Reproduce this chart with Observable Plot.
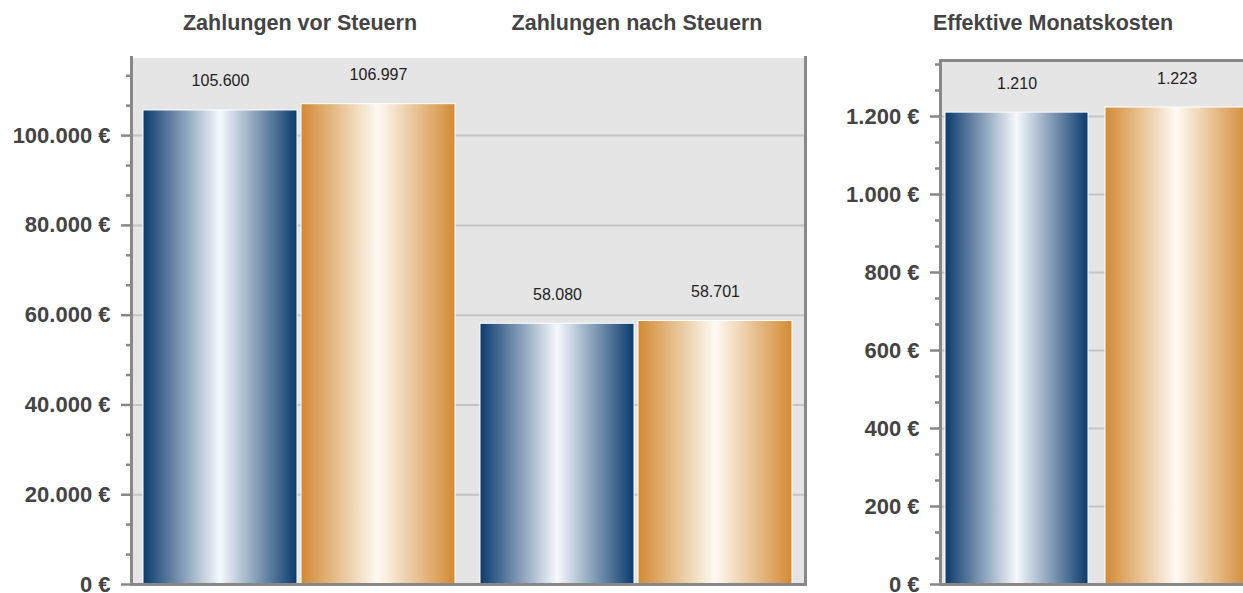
<!DOCTYPE html>
<html><head><meta charset="utf-8">
<script src="https://cdn.jsdelivr.net/npm/d3@7"></script>
<script src="https://cdn.jsdelivr.net/npm/@observablehq/plot@0.6"></script>
<style>
html,body{margin:0;padding:0;background:#fff;overflow:hidden}
#chart{position:relative;width:1243px;height:593px;overflow:hidden;font-family:"Liberation Sans",Arial,sans-serif}
#chart svg{position:absolute;top:0}
</style></head><body><div id="chart"></div>
<script>
// ---- data ----
const groups = ["Zahlungen vor Steuern", "Zahlungen nach Steuern"];
const series = ["Variante A", "Variante B"];
const vorSteuern = [105600, 106997];
const nachSteuern = [58080, 58701];
const monatsTitle = "Effektive Monatskosten";
const monatskosten = [1210, 1223];
const leftTicks = [0, 20000, 40000, 60000, 80000, 100000];
const rightTicks = [0, 200, 400, 600, 800, 1000, 1200];
const leftMax = 117400;
const rightMax = 1343.6;

const de = d3.formatLocale({decimal: ",", thousands: ".", grouping: [3], currency: ["", " €"]});
const fmtNum = de.format(",.0f");
const fmtEuro = d => fmtNum(d) + " €";

const leftData = groups.flatMap((g, i) => series.map((s, j) => ({group: g, series: s, value: [vorSteuern, nachSteuern][i][j]})));
const rightData = series.map((s, j) => ({series: s, value: monatskosten[j]}));

const minorLeft = d3.range(1, 18).filter(i => i % 3).map(i => i * 20000 / 3).filter(v => v < leftMax);
const minorRight = d3.range(1, 21).filter(i => i % 3).map(i => i * 200 / 3).filter(v => v < rightMax);

const gradSpecs = [["blue", "#0a3a6d", "#f6f9fc"], ["orange", "#d28a33", "#fefaf3"]];
function gradientDefs(suffix) {
  return () => {
    const ns = "http://www.w3.org/2000/svg";
    const defs = document.createElementNS(ns, "defs");
    for (const [name, edge, mid] of gradSpecs) {
      const lg = document.createElementNS(ns, "linearGradient");
      lg.setAttribute("id", name + suffix);
      lg.setAttribute("x1", "0"); lg.setAttribute("x2", "1");
      lg.setAttribute("y1", "0"); lg.setAttribute("y2", "0");
      for (const [off, c] of [[0, edge], [0.5, mid], [1, edge]]) {
        const st = document.createElementNS(ns, "stop");
        st.setAttribute("offset", off);
        st.setAttribute("stop-color", c);
        lg.appendChild(st);
      }
      defs.appendChild(lg);
    }
    return defs;
  };
}

const style = {fontFamily: "'Liberation Sans', Arial, sans-serif", background: "transparent", overflow: "visible"};
const axisColor = "#888";
const gridColor = "#c4c4c4";
const labelColor = "#444";

const left = Plot.plot({
  width: 810, height: 593,
  marginLeft: 130, marginRight: 5, marginTop: 57, marginBottom: 9,
  style,
  fx: {domain: groups, padding: 0, label: null},
  x: {domain: series, paddingInner: 0.025, paddingOuter: 0.075, axis: null},
  y: {domain: [0, leftMax], label: null},
  color: {domain: series, range: ["url(#blueL)", "url(#orangeL)"]},
  marks: [
    gradientDefs("L"),
    Plot.frame({fill: "#e5e5e5", stroke: null, shapeRendering: "crispEdges"}),
    Plot.gridY({ticks: leftTicks.slice(1), stroke: gridColor, strokeOpacity: 1, strokeWidth: 2}),
    Plot.barY(leftData, {fx: "group", x: "series", y: "value", fill: "series", stroke: "white", strokeWidth: 1}),
    Plot.text(leftData, {fx: "group", x: "series", y: "value", text: d => fmtNum(d.value), lineAnchor: "bottom", dy: -24, fontSize: 16, fill: "#222"}),
    Plot.axisFx({anchor: "top", tickSize: 0, tickPadding: 28, fontSize: 21.5, fontWeight: "bold", fill: labelColor, label: null}),
    Plot.axisY({ticks: minorLeft, anchor: "left", tickSize: 5, stroke: axisColor, strokeWidth: 2.5, tickFormat: () => "", label: null}),
    Plot.axisY({ticks: leftTicks, anchor: "left", tickSize: 10, tickPadding: 11, stroke: axisColor, strokeWidth: 2.5, tickFormat: fmtEuro, fontSize: 22, fontWeight: "bold", fill: labelColor, label: null}),
    Plot.frame({anchor: "left", stroke: axisColor, strokeWidth: 3, facetAnchor: "left"}),
    Plot.frame({anchor: "right", stroke: axisColor, strokeWidth: 3, facetAnchor: "right"}),
    Plot.frame({anchor: "bottom", stroke: axisColor, strokeWidth: 3})
  ]
});
left.style.left = "0px";

const right = Plot.plot({
  width: 450, height: 593,
  marginLeft: 130, marginRight: 7, marginTop: 60, marginBottom: 9,
  style,
  x: {domain: series, paddingInner: 0.106, paddingOuter: 0.031, axis: null},
  y: {domain: [0, rightMax], label: null},
  color: {domain: series, range: ["url(#blueR)", "url(#orangeR)"]},
  marks: [
    gradientDefs("R"),
    Plot.frame({fill: "#e5e5e5", stroke: null}),
    Plot.gridY({ticks: rightTicks.slice(1), stroke: gridColor, strokeOpacity: 1, strokeWidth: 2}),
    Plot.barY(rightData, {x: "series", y: "value", fill: "series", stroke: "white", strokeWidth: 1}),
    Plot.text(rightData, {x: "series", y: "value", text: d => fmtNum(d.value), lineAnchor: "bottom", dy: -24, fontSize: 16, fill: "#222"}),
    Plot.axisY({ticks: minorRight, anchor: "left", tickSize: 5, stroke: axisColor, strokeWidth: 2.5, tickFormat: () => "", label: null}),
    Plot.axisY({ticks: rightTicks, anchor: "left", tickSize: 10, tickPadding: 11, stroke: axisColor, strokeWidth: 2.5, tickFormat: fmtEuro, fontSize: 22, fontWeight: "bold", fill: labelColor, label: null}),
    Plot.frame({stroke: axisColor, strokeWidth: 3}),
    Plot.text([monatsTitle], {text: d => d, frameAnchor: "top", dx: -44, dy: -31, lineAnchor: "bottom", fontSize: 21.5, fontWeight: "bold", fill: labelColor})
  ]
});
right.style.left = "810px";

const chart = document.getElementById("chart");
chart.appendChild(left);
chart.appendChild(right);
</script>
</body></html>
